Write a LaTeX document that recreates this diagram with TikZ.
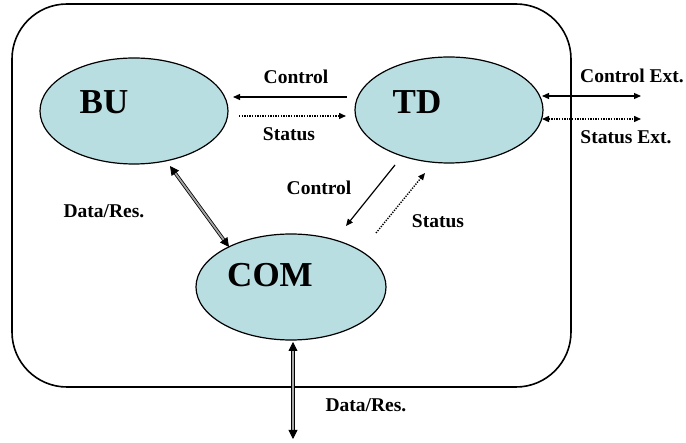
\documentclass[tikz,border=0pt]{standalone}
\usepackage{fontspec}
\setmainfont{Liberation Serif}
\usetikzlibrary{arrows.meta,shapes.geometric}
\definecolor{blob}{RGB}{185,222,226}
\begin{document}
\begin{tikzpicture}[x=1pt,y=-1pt,
  blobnode/.style={ellipse,draw,line width=1.2pt,fill=blob,minimum width=#1,minimum height=106pt,inner sep=0pt},
  big/.style={font=\fontsize{35}{35}\selectfont\bfseries},
  lab/.style={font=\fontsize{19.5}{19.5}\selectfont\bfseries,inner sep=0pt},
  tip/.style={-{Triangle[length=7pt,width=6pt]}},
  tips/.style={{Triangle[length=7pt,width=6pt]}-{Triangle[length=7pt,width=6pt]}},
  dbl/.style={{Triangle[length=9pt,width=9pt]}-{Triangle[length=9pt,width=9pt]},double=gray!70,double distance=1.8pt,line width=0.8pt},
  dot/.style={dash pattern=on 1.3pt off 1.3pt,line width=1.4pt},
  sol/.style={line width=1.2pt}]
\useasboundingbox (0,0) rectangle (686,443);
\draw[line width=1.6pt,rounded corners=55pt] (12,4) rectangle (571,387);
\node[blobnode=188pt] (BU) at (134,111) {};
\node[blobnode=188pt] (TD) at (449,110) {};
\node[blobnode=190pt] (COM) at (291,287) {};
\node[big] (tBU) at (104,102) {BU};
\node[big] (tTD) at (417,102) {TD};
\node[big] (tCOM) at (270,275) {COM};
% Control / Status between BU and TD
\coordinate (c1) at (347,97); \coordinate (c2) at (233,97);
\draw[sol,tip] (c1) -- (c2);
\node[lab] (lc1) at (296,77) {Control};
\coordinate (s1) at (239,116); \coordinate (s2) at (346,116);
\draw[dot,tip] (s1) -- (s2);
\node[lab] (ls1) at (289,134) {Status};
% external
\coordinate (e1) at (542,96); \coordinate (e2) at (641,96);
\draw[sol,tips] (e1) -- (e2);
\node[lab] (le1) at (632,76) {Control Ext.};
\coordinate (f1) at (542,119); \coordinate (f2) at (641,119);
\draw[dot,tips] (f1) -- (f2);
\node[lab] (lf1) at (626,137) {Status Ext.};
% diagonal control / status
\coordinate (d1) at (395,165); \coordinate (d2) at (346,226);
\draw[sol,tip] (d1) -- (d2);
\node[lab] (ld1) at (319,188) {Control};
\coordinate (g1) at (376,233); \coordinate (g2) at (425,173);
\draw[dot,tip] (g1) -- (g2);
\node[lab] (lg1) at (438,221) {Status};
% data/res
\coordinate (h1) at (170,166); \coordinate (h2) at (229,247);
\draw[dbl] (h1) -- (h2);
\node[lab] (lh1) at (104,211) {Data/Res.};
\coordinate (k1) at (293,342); \coordinate (k2) at (293,439);
\draw[dbl] (k1) -- (k2);
\node[lab] (lk1) at (366,405) {Data/Res.};
\end{tikzpicture}
\end{document}
